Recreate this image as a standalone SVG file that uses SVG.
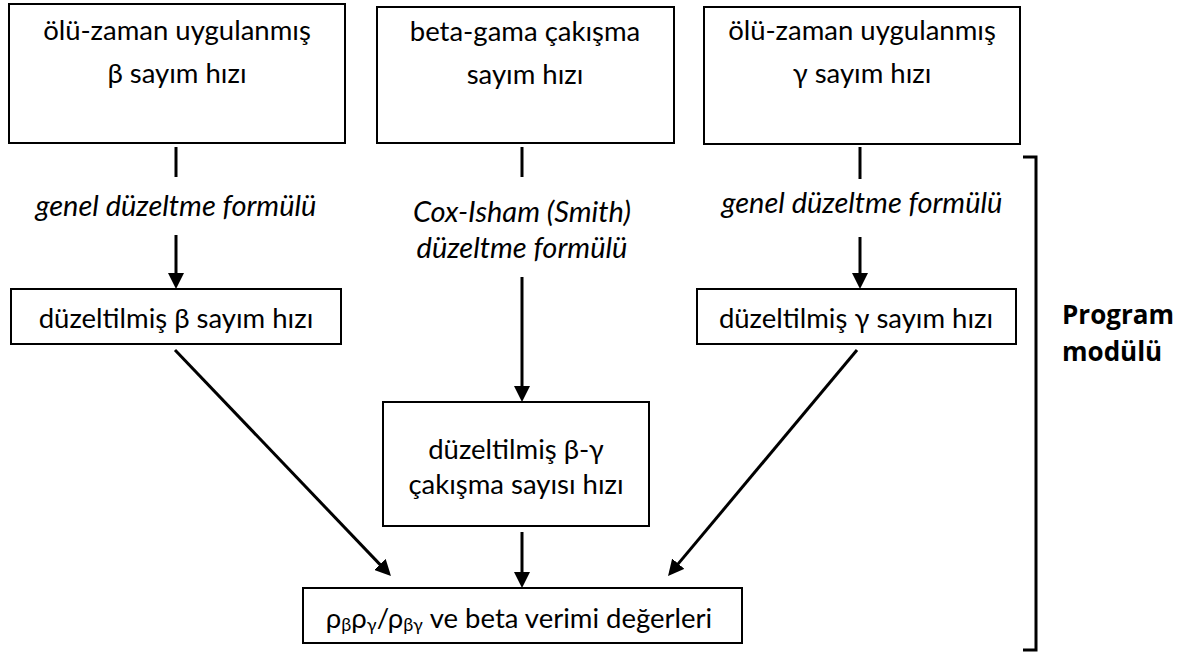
<svg xmlns="http://www.w3.org/2000/svg" width="1199" height="655" viewBox="0 0 1199 655">
<defs>
<marker id="arr" markerUnits="userSpaceOnUse" markerWidth="16" markerHeight="16" refX="12" refY="8" orient="auto">
<path d="M0,0 L16,8 L0,16 z" fill="#000"/>
</marker>
<style>
.box{fill:#fff;stroke:#000;stroke-width:2}
.t{font-family:Lato,"Open Sans",sans-serif;font-size:27.5px;fill:#000;text-anchor:middle}
.i{font-family:Lato,"Open Sans",sans-serif;font-size:29px;font-style:italic;fill:#000;text-anchor:middle}
.b{font-family:"Open Sans",sans-serif;font-size:26px;font-weight:bold;fill:#000}
.c{stroke:#000;stroke-width:3;fill:none}
.s{font-size:18px}
</style>
</defs>
<rect width="1199" height="655" fill="#fff"/>
<g id="connectors">
<line class="c" x1="176" y1="147" x2="176" y2="177"/>
<line class="c" x1="176" y1="235" x2="176" y2="285" marker-end="url(#arr)"/>
<line class="c" x1="522" y1="147" x2="522" y2="177"/>
<line class="c" x1="522" y1="277" x2="522" y2="398" marker-end="url(#arr)"/>
<line class="c" x1="522" y1="532" x2="522" y2="584" marker-end="url(#arr)"/>
<line class="c" x1="860" y1="147" x2="860" y2="179"/>
<line class="c" x1="860" y1="237" x2="860" y2="285" marker-end="url(#arr)"/>
<line class="c" x1="175" y1="350" x2="388.2" y2="573.1" marker-end="url(#arr)"/>
<line class="c" x1="857" y1="350" x2="670.6" y2="572.9" marker-end="url(#arr)"/>
</g>
<g id="label-left"><text class="i" x="176" y="216">genel düzeltme formülü</text></g>
<g id="label-center"><text class="i" x="522" y="222">Cox-Isham (Smith)</text><text class="i" x="522" y="258">düzeltme formülü</text></g>
<g id="label-right"><text class="i" x="862" y="213">genel düzeltme formülü</text></g>
<g id="node-beta-raw"><rect class="box" x="9" y="4" width="336" height="139"/><text class="t" x="177" y="40">ölü-zaman uygulanmış</text><text class="t" x="177" y="83">β sayım hızı</text></g>
<g id="node-coinc-raw"><rect class="box" x="377" y="7" width="297" height="136"/><text class="t" x="525" y="41">beta-gama çakışma</text><text class="t" x="525" y="84">sayım hızı</text></g>
<g id="node-gamma-raw"><rect class="box" x="704" y="7" width="316" height="137"/><text class="t" x="862" y="40">ölü-zaman uygulanmış</text><text class="t" x="862" y="83">γ sayım hızı</text></g>
<g id="node-beta-corr"><rect class="box" x="11" y="289" width="330" height="55"/><text class="t" x="176" y="328">düzeltilmiş β sayım hızı</text></g>
<g id="node-gamma-corr"><rect class="box" x="697" y="289" width="319" height="55"/><text class="t" x="856" y="328">düzeltilmiş γ sayım hızı</text></g>
<g id="node-coinc-corr"><rect class="box" x="383" y="402" width="266" height="124"/><text class="t" x="516" y="459">düzeltilmiş β-γ</text><text class="t" x="516" y="494">çakışma sayısı hızı</text></g>
<g id="node-result"><rect class="box" x="303" y="588" width="439" height="55"/><text class="t" x="519" y="628">ρ<tspan class="s" dy="3">β</tspan><tspan dy="-3">ρ</tspan><tspan class="s" dy="3">γ</tspan><tspan dy="-3">/ρ</tspan><tspan class="s" dy="3">βγ</tspan><tspan dy="-3"> ve beta verimi değerleri</tspan></text></g>
<g id="bracket"><path class="c" d="M1023,157 H1036 V650 H1023"/><text class="b" x="1062" y="324">Program</text><text class="b" x="1062" y="361">modülü</text></g>
</svg>
